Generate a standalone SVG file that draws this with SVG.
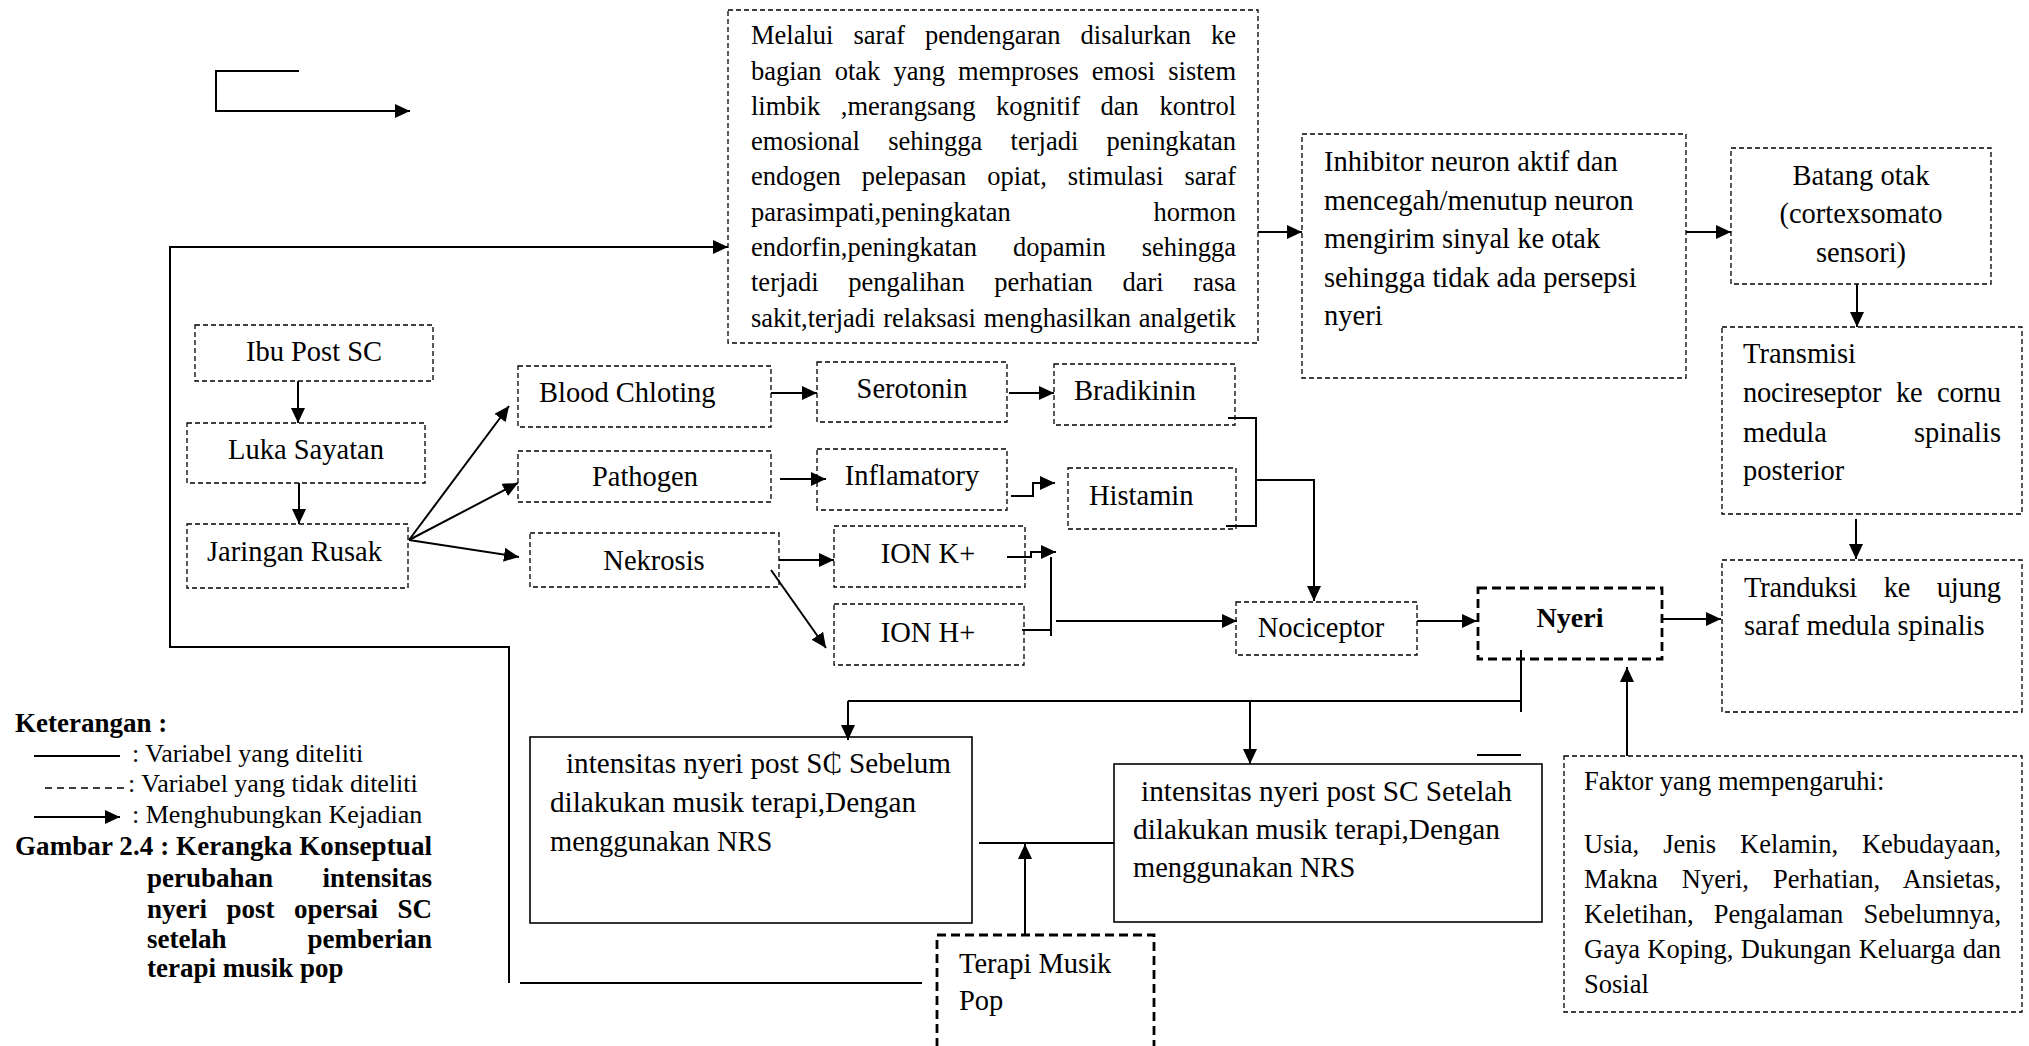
<svg xmlns="http://www.w3.org/2000/svg" width="2029" height="1046" viewBox="0 0 2029 1046">
<defs>
<style>
text{font-family:"Liberation Serif","Times New Roman",serif;fill:#000}
.t{font-size:28.5px}
.s{font-size:26.5px}
.lg{font-size:26px}
.b{font-weight:bold}
.m{text-anchor:middle}
.e{text-anchor:end}
.bd{fill:none;stroke:#000;stroke-width:1.3;stroke-dasharray:5 3}
.bb{fill:none;stroke:#000;stroke-width:2.8;stroke-dasharray:9 5}
.bs{fill:none;stroke:#000;stroke-width:1.6}
.c{fill:none;stroke:#000;stroke-width:2}
.a{marker-end:url(#arr)}
</style>
<marker id="arr" markerUnits="userSpaceOnUse" markerWidth="16" markerHeight="14" refX="15" refY="7" orient="auto">
<path d="M0,0 L15,7 L0,14 z" fill="#000"/>
</marker>
</defs>
<rect x="0" y="0" width="2029" height="1046" fill="#fff"/>

<g id="connectors">
<path class="c a" d="M299,71 H216 V111 H410"/>
<path class="c a" d="M509,983 V647 H170 V247 H728"/>
<path class="c" d="M520,983 H922"/>
<path class="c a" d="M298,381 V423"/>
<path class="c a" d="M299,483 V524"/>
<path class="c a" d="M409,540 L509,406"/>
<path class="c a" d="M409,540 L518,483"/>
<path class="c a" d="M409,540 L519,557"/>
<path class="c a" d="M771,393 H817"/>
<path class="c a" d="M1009,393 H1054"/>
<path class="c a" d="M780,479 H826"/>
<path class="c a" d="M1011,496 H1033 V483 H1055"/>
<path class="c" d="M1228,418 H1256 V526 H1226"/>
<path class="c a" d="M1256,480 H1314 V601"/>
<path class="c a" d="M779,560 H834"/>
<path class="c a" d="M771,570 L826,648"/>
<path class="c a" d="M1007,557 H1031 V552 H1056"/>
<path class="c" d="M1051,557 V636 M1022,630 H1051"/>
<path class="c a" d="M1056,621 H1237"/>
<path class="c a" d="M1417,621 H1477"/>
<path class="c a" d="M1662,619 H1721"/>
<path class="c a" d="M1258,232 H1302"/>
<path class="c a" d="M1686,232 H1731"/>
<path class="c a" d="M1857,284 V327"/>
<path class="c a" d="M1856,519 V559"/>
<path class="c" d="M1521,650 V712 M848,701 H1521"/>
<path class="c a" d="M848,701 V740"/>
<path class="c a" d="M1250,701 V764"/>
<path class="c" d="M1477,755 H1521"/>
<path class="c a" d="M1627,756 V667"/>
<path class="c" d="M979,843 H1114"/>
<path class="c a" d="M1025,935 V844"/>
</g>

<g id="node-musik">
<rect class="bd" x="728" y="10" width="530" height="333"/>
<text class="s" x="751" y="44" word-spacing="13.4" textLength="485" lengthAdjust="spacing">Melalui saraf pendengaran disalurkan ke</text>
<text class="s" x="751" y="79.5" word-spacing="6.5" textLength="485" lengthAdjust="spacing">bagian otak yang memproses emosi sistem</text>
<text class="s" x="751" y="114.8" word-spacing="14" textLength="485" lengthAdjust="spacing">limbik ,merangsang kognitif dan kontrol</text>
<text class="s" x="751" y="150.1" word-spacing="21.6" textLength="485" lengthAdjust="spacing">emosional sehingga terjadi peningkatan</text>
<text class="s" x="751" y="185.4" word-spacing="14.4" textLength="485" lengthAdjust="spacing">endogen pelepasan opiat, stimulasi saraf</text>
<text class="s" x="751" y="220.7">parasimpati,peningkatan</text>
<text class="s e" x="1236" y="220.7">hormon</text>
<text class="s" x="751" y="256" word-spacing="29.4" textLength="485" lengthAdjust="spacing">endorfin,peningkatan dopamin sehingga</text>
<text class="s" x="751" y="291.3" word-spacing="23" textLength="485" lengthAdjust="spacing">terjadi pengalihan perhatian dari rasa</text>
<text class="s" x="751" y="326.6" word-spacing="1.2" textLength="485" lengthAdjust="spacing">sakit,terjadi relaksasi menghasilkan analgetik</text>
</g>

<g id="node-ibu">
<rect class="bd" x="195" y="325" width="238" height="56"/>
<text class="t m" x="314" y="361">Ibu Post SC</text>
</g>
<g id="node-luka">
<rect class="bd" x="187" y="423" width="238" height="60"/>
<text class="t m" x="306" y="459">Luka Sayatan</text>
</g>
<g id="node-jaringan">
<rect class="bd" x="187" y="524" width="221" height="64"/>
<text class="t" x="207" y="561">Jaringan Rusak</text>
</g>
<g id="node-blood">
<rect class="bd" x="518" y="366" width="253" height="61"/>
<text class="t" x="539" y="402">Blood Chloting</text>
</g>
<g id="node-pathogen">
<rect class="bd" x="518" y="451" width="253" height="51"/>
<text class="t m" x="645" y="486">Pathogen</text>
</g>
<g id="node-nekrosis">
<rect class="bd" x="530" y="533" width="249" height="54"/>
<text class="t m" x="654" y="570">Nekrosis</text>
</g>
<g id="node-serotonin">
<rect class="bd" x="817" y="362" width="190" height="60"/>
<text class="t m" x="912" y="398">Serotonin</text>
</g>
<g id="node-inflamatory">
<rect class="bd" x="817" y="449" width="190" height="61"/>
<text class="t m" x="912" y="485">Inflamatory</text>
</g>
<g id="node-ionk">
<rect class="bd" x="834" y="526" width="191" height="61"/>
<text class="t m" x="928" y="563">ION K+</text>
</g>
<g id="node-ionh">
<rect class="bd" x="834" y="604" width="190" height="61"/>
<text class="t m" x="928" y="642">ION H+</text>
</g>
<g id="node-bradikinin">
<rect class="bd" x="1054" y="364" width="181" height="61"/>
<text class="t" x="1074" y="400">Bradikinin</text>
</g>
<g id="node-histamin">
<rect class="bd" x="1068" y="468" width="168" height="61"/>
<text class="t" x="1089" y="505">Histamin</text>
</g>
<g id="node-nociceptor">
<rect class="bd" x="1236" y="602" width="181" height="53"/>
<text class="t m" x="1321" y="637">Nociceptor</text>
</g>
<g id="node-nyeri">
<rect class="bb" x="1478" y="588" width="184" height="71"/>
<text class="b m" style="font-size:28px" x="1570" y="627">Nyeri</text>
</g>
<g id="node-inhibitor">
<rect class="bd" x="1302" y="134" width="384" height="244"/>
<text class="t" x="1324" y="171">Inhibitor neuron aktif dan</text>
<text class="t" x="1324" y="209.5">mencegah/menutup neuron</text>
<text class="t" x="1324" y="248">mengirim sinyal ke otak</text>
<text class="t" x="1324" y="286.5">sehingga tidak ada persepsi</text>
<text class="t" x="1324" y="325">nyeri</text>
</g>
<g id="node-batang">
<rect class="bd" x="1731" y="148" width="260" height="136"/>
<text class="t m" x="1861" y="185">Batang otak</text>
<text class="t m" x="1861" y="223">(cortexsomato</text>
<text class="t m" x="1861" y="262">sensori)</text>
</g>
<g id="node-transmisi">
<rect class="bd" x="1722" y="327" width="300" height="187"/>
<text class="t" x="1743" y="363">Transmisi</text>
<text class="t" x="1743" y="402" word-spacing="7.7" textLength="258" lengthAdjust="spacing">nocireseptor ke cornu</text>
<text class="t" x="1743" y="442">medula</text>
<text class="t e" x="2001" y="442">spinalis</text>
<text class="t" x="1743" y="480">posterior</text>
</g>
<g id="node-tranduksi">
<rect class="bd" x="1722" y="560" width="300" height="152"/>
<text class="t" x="1744" y="597" word-spacing="19.6" textLength="257" lengthAdjust="spacing">Tranduksi ke ujung</text>
<text class="t" x="1744" y="635">saraf medula spinalis</text>
</g>
<g id="node-faktor">
<rect class="bd" x="1564" y="756" width="458" height="256"/>
<text class="s" x="1584" y="790">Faktor yang mempengaruhi:</text>
<text class="s" x="1584" y="853" word-spacing="17.3" textLength="417" lengthAdjust="spacing">Usia, Jenis Kelamin, Kebudayaan,</text>
<text class="s" x="1584" y="888" word-spacing="17.3" textLength="417" lengthAdjust="spacing">Makna Nyeri, Perhatian, Ansietas,</text>
<text class="s" x="1584" y="923" word-spacing="13.5" textLength="417" lengthAdjust="spacing">Keletihan, Pengalaman Sebelumnya,</text>
<text class="s" x="1584" y="958" word-spacing="0.7" textLength="417" lengthAdjust="spacing">Gaya Koping, Dukungan Keluarga dan</text>
<text class="s" x="1584" y="993">Sosial</text>
</g>
<g id="node-sebelum">
<rect class="bs" x="530" y="737" width="442" height="186"/>
<text class="t" x="566" y="773" textLength="385" lengthAdjust="spacingAndGlyphs">intensitas nyeri post S₵ Sebelum</text>
<text class="t" x="550" y="812" textLength="366" lengthAdjust="spacingAndGlyphs">dilakukan musik terapi,Dengan</text>
<text class="t" x="550" y="851">menggunakan NRS</text>
</g>
<g id="node-setelah">
<rect class="bs" x="1114" y="764" width="428" height="158"/>
<text class="t" x="1141" y="801" textLength="371" lengthAdjust="spacingAndGlyphs">intensitas nyeri post SC Setelah</text>
<text class="t" x="1133" y="839" textLength="367" lengthAdjust="spacingAndGlyphs">dilakukan musik terapi,Dengan</text>
<text class="t" x="1133" y="877">menggunakan NRS</text>
</g>
<g id="node-terapi">
<rect class="bb" x="937" y="935" width="217" height="140"/>
<text class="t" x="959" y="973">Terapi Musik</text>
<text class="t" x="959" y="1010">Pop</text>
</g>

<g id="legend">
<text class="b" style="font-size:27px" x="15" y="732">Keterangan :</text>
<path class="c" d="M34,756 H120"/>
<text class="lg" x="132" y="762">: Variabel yang diteliti</text>
<path d="M45,788 H128" fill="none" stroke="#000" stroke-width="1.5" stroke-dasharray="7 5"/>
<text class="lg" x="128" y="792">: Variabel yang tidak diteliti</text>
<path class="c a" d="M34,817 H120"/>
<text class="lg" x="132" y="823">: Menghubungkan Kejadian</text>
<text class="b" style="font-size:27px" x="15" y="855" textLength="417" lengthAdjust="spacing">Gambar 2.4 : Kerangka Konseptual</text>
<text class="b" style="font-size:27px" x="147" y="887">perubahan</text>
<text class="b e" style="font-size:27px" x="432" y="887">intensitas</text>
<text class="b" style="font-size:27px" x="147" y="918" word-spacing="12.7" textLength="285" lengthAdjust="spacing">nyeri post opersai SC</text>
<text class="b" style="font-size:27px" x="147" y="948">setelah</text>
<text class="b e" style="font-size:27px" x="432" y="948">pemberian</text>
<text class="b" style="font-size:27px" x="147" y="977">terapi musik pop</text>
</g>
</svg>
